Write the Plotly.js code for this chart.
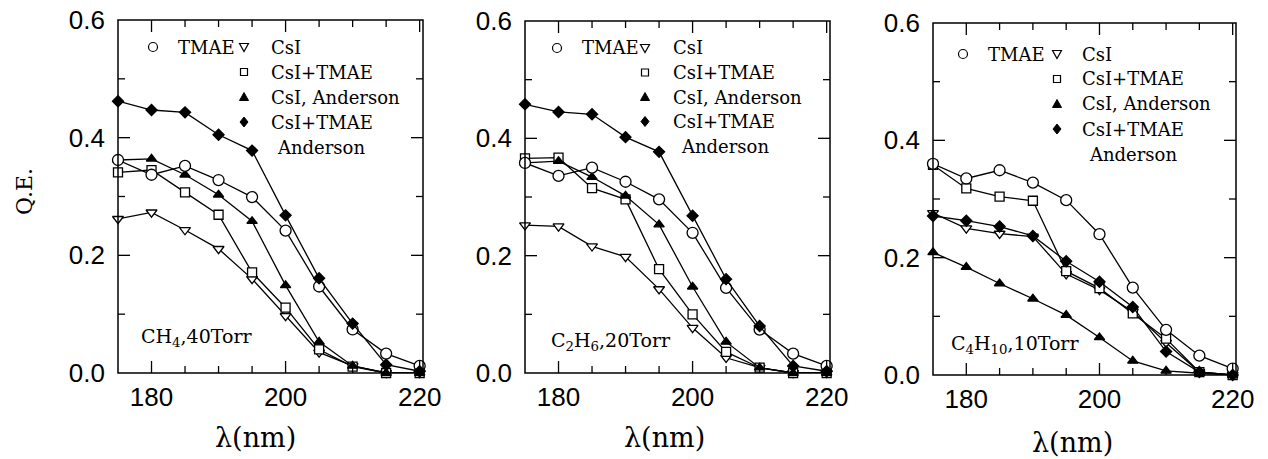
<!DOCTYPE html>
<html>
<head>
<meta charset="utf-8">
<script src="https://cdn.plot.ly/plotly-3.0.1.min.js"></script>
<style>html,body{margin:0;padding:0;background:#fff;}#plot{width:1268px;height:459px;}</style>
</head>
<body>
<div id="plot"></div>
<script>
// Wavelengths (nm)
const wavelength = [175, 180, 185, 190, 195, 200, 205, 210, 215, 220];

// Panel 1: CH4, 40 Torr
const ch4_TMAE        = [0.362, 0.337, 0.352, 0.328, 0.299, 0.242, 0.147, 0.074, 0.033, 0.012];
const ch4_CsI         = [0.262, 0.273, 0.243, 0.211, 0.160, 0.097, 0.035, 0.012, 0.000, 0.000];
const ch4_CsI_TMAE    = [0.341, 0.345, 0.307, 0.269, 0.171, 0.111, 0.040, 0.011, 0.000, 0.000];
const ch4_CsI_And     = [0.362, 0.364, 0.337, 0.303, 0.258, 0.149, 0.053, 0.012, 0.000, 0.000];
const ch4_CsITMAE_And = [0.462, 0.447, 0.443, 0.405, 0.378, 0.268, 0.161, 0.084, 0.014, 0.003];

// Panel 2: C2H6, 20 Torr
const c2h6_TMAE        = [0.358, 0.336, 0.350, 0.326, 0.296, 0.239, 0.145, 0.074, 0.033, 0.012];
const c2h6_CsI         = [0.252, 0.250, 0.216, 0.198, 0.143, 0.077, 0.026, 0.009, 0.000, 0.000];
const c2h6_CsI_TMAE    = [0.366, 0.367, 0.315, 0.296, 0.177, 0.100, 0.036, 0.009, 0.000, 0.000];
const c2h6_CsI_And     = [0.358, 0.361, 0.334, 0.302, 0.253, 0.147, 0.053, 0.009, 0.000, 0.000];
const c2h6_CsITMAE_And = [0.458, 0.445, 0.441, 0.402, 0.377, 0.268, 0.160, 0.080, 0.012, 0.003];

// Panel 3: C4H10, 10 Torr
const c4h10_TMAE        = [0.360, 0.335, 0.349, 0.328, 0.298, 0.240, 0.149, 0.077, 0.033, 0.011];
const c4h10_CsI         = [0.276, 0.250, 0.241, 0.236, 0.172, 0.145, 0.108, 0.055, 0.005, 0.000];
const c4h10_CsI_TMAE    = [0.358, 0.318, 0.304, 0.297, 0.177, 0.148, 0.105, 0.062, 0.005, 0.000];
const c4h10_CsI_And     = [0.209, 0.184, 0.156, 0.130, 0.102, 0.064, 0.024, 0.007, 0.003, 0.000];
const c4h10_CsITMAE_And = [0.271, 0.263, 0.253, 0.237, 0.194, 0.159, 0.116, 0.040, 0.005, 0.000];

// Labels
const seriesNames = ["TMAE", "CsI", "CsI+TMAE", "CsI, Anderson", "CsI+TMAE", "Anderson"];
const panelLabels = ["CH<sub>4</sub>,40Torr", "C<sub>2</sub>H<sub>6</sub>,20Torr", "C<sub>4</sub>H<sub>10</sub>,10Torr"];
const xTitle = "λ(nm)";
const yTitle = "Q.E.";

const panels = [
  [ch4_TMAE, ch4_CsI, ch4_CsI_TMAE, ch4_CsI_And, ch4_CsITMAE_And],
  [c2h6_TMAE, c2h6_CsI, c2h6_CsI_TMAE, c2h6_CsI_And, c2h6_CsITMAE_And],
  [c4h10_TMAE, c4h10_CsI, c4h10_CsI_TMAE, c4h10_CsI_And, c4h10_CsITMAE_And]
];

const styles = [
  {symbol: "circle", size: 11, color: "#fff"},
  {symbol: "triangle-down", size: 9.5, color: "#fff"},
  {symbol: "square", size: 9, color: "#fff"},
  {symbol: "triangle-up", size: 9, color: "#000"},
  {symbol: "diamond", size: 8.5, color: "#000"}
];
const drawOrder = [1, 2, 3, 0, 4];

const W = 1268, H = 459;
const geom = [
  {l: 118, r: 423, t: 20, b: 373},
  {l: 525, r: 830, t: 21, b: 373},
  {l: 933, r: 1236, t: 23, b: 375}
];
const X_RANGE = [175, 220.5], Y_RANGE = [0, 0.6];
const fx = p => p / W;
const fy = p => 1 - p / H;

const traces = [];
panels.forEach((series, pi) => {
  const sfx = pi === 0 ? "" : String(pi + 1);
  drawOrder.forEach(si => {
    const st = styles[si];
    traces.push({
      x: wavelength, y: series[si], name: seriesNames[si],
      xaxis: "x" + sfx, yaxis: "y" + sfx,
      type: "scatter", mode: "lines+markers", cliponaxis: false, showlegend: false,
      line: {color: "#000", width: 1.3},
      marker: {symbol: st.symbol, size: st.size, color: st.color, line: {color: "#000", width: 1.3}}
    });
  });
});

const layout = {
  width: W, height: H,
  margin: {l: 0, r: 0, t: 0, b: 0},
  showlegend: false,
  annotations: [], shapes: []
};

const tickFont = {family: "Liberation Sans, Arial, sans-serif", size: 26, color: "#000"};
const frameLine = {color: "#000", width: 1.5};
const tickLine = {color: "#000", width: 1.3};
geom.forEach((g, pi) => {
  const sfx = pi === 0 ? "" : String(pi + 1);
  layout["xaxis" + sfx] = {
    domain: [fx(g.l), fx(g.r)], range: X_RANGE, anchor: "y" + sfx,
    showline: false, ticks: "",
    tickmode: "linear", tick0: 180, dtick: 20,
    tickfont: tickFont, ticklabelstandoff: 6,
    showgrid: false, zeroline: false
  };
  layout["yaxis" + sfx] = {
    domain: [fy(g.b), fy(g.t)], range: Y_RANGE, anchor: "x" + sfx,
    showline: false, ticks: "",
    tickmode: "linear", tick0: 0, dtick: 0.2, tickformat: ".1f",
    tickfont: tickFont, ticklabelstandoff: 12,
    showgrid: false, zeroline: false
  };

  // frame around the panel (paper coordinates of the axis domains)
  layout.shapes.push({type: "rect", xref: "paper", yref: "paper",
    x0: fx(g.l), x1: fx(g.r), y0: fy(g.b), y1: fy(g.t), line: frameLine, fillcolor: "rgba(0,0,0,0)"});
  // inside ticks on all four sides: x via the x axis scale, y via the y axis scale
  for (let xv = 180; xv <= 220; xv += 5) {
    const len = (xv % 20 === 0) ? 12 : 7;
    layout.shapes.push({type: "line", xref: "x" + sfx, yref: "paper", x0: xv, x1: xv,
      y0: fy(g.b), y1: fy(g.b - len), line: tickLine});
    layout.shapes.push({type: "line", xref: "x" + sfx, yref: "paper", x0: xv, x1: xv,
      y0: fy(g.t), y1: fy(g.t + len), line: tickLine});
  }
  for (let k = 1; k <= 5; k++) {
    const yv = k / 10;
    const len = (k % 2 === 0) ? 12 : 7;
    layout.shapes.push({type: "line", xref: "paper", yref: "y" + sfx, x0: fx(g.l), x1: fx(g.l + len),
      y0: yv, y1: yv, line: tickLine});
    layout.shapes.push({type: "line", xref: "paper", yref: "y" + sfx, x0: fx(g.r), x1: fx(g.r - len),
      y0: yv, y1: yv, line: tickLine});
  }
});

const serif = "DejaVu Serif, Liberation Serif, serif";
const textFont = {family: serif, size: 18, color: "#000"};
function ann(xp, yp, text, font, xanchor) {
  layout.annotations.push({
    xref: "paper", yref: "paper", x: fx(xp), y: fy(yp), text: text,
    showarrow: false, font: font, xanchor: xanchor || "center", yanchor: "middle"
  });
}
function pathFrom(pts) {
  return "M" + pts.map(p => fx(p[0]) + "," + fy(p[1])).join("L") + "Z";
}
function glyph(kind, cx, cy) {
  const ln = {color: "#000", width: 1.2};
  if (kind === "circle") {
    const r = 4.5;
    layout.shapes.push({type: "circle", xref: "paper", yref: "paper",
      x0: fx(cx - r), x1: fx(cx + r), y0: fy(cy + r), y1: fy(cy - r), line: ln, fillcolor: "#fff"});
  } else if (kind === "square") {
    const r = 3.5;
    layout.shapes.push({type: "rect", xref: "paper", yref: "paper",
      x0: fx(cx - r), x1: fx(cx + r), y0: fy(cy + r), y1: fy(cy - r), line: ln, fillcolor: "#fff"});
  } else if (kind === "tridown") {
    layout.shapes.push({type: "path", xref: "paper", yref: "paper",
      path: pathFrom([[cx - 4.5, cy - 3.5], [cx + 4.5, cy - 3.5], [cx, cy + 4.5]]), line: ln, fillcolor: "#fff"});
  } else if (kind === "triup") {
    layout.shapes.push({type: "path", xref: "paper", yref: "paper",
      path: pathFrom([[cx - 4.5, cy + 3.5], [cx + 4.5, cy + 3.5], [cx, cy - 4.5]]), line: {color: "#000", width: 1}, fillcolor: "#000"});
  } else if (kind === "diamond") {
    layout.shapes.push({type: "path", xref: "paper", yref: "paper",
      path: pathFrom([[cx, cy - 5], [cx + 4, cy], [cx, cy + 5], [cx - 4, cy]]), line: {color: "#000", width: 1}, fillcolor: "#000"});
  }
}

const legendGeom = [
  {circ: 35, tmae: 58, sym: 126, txt: 151, and: 157, y0: 47, dy: 25},
  {circ: 32, tmae: 55, sym: 120, txt: 146, and: 154, y0: 48, dy: 24.5},
  {circ: 30, tmae: 53, sym: 124, txt: 147, and: 154, y0: 54, dy: 25}
];
const labelGeom = [{x: 21, y: 337}, {x: 24, y: 341}, {x: 16, y: 344}];
const xTitleGeom = [{x: 255, y: 437}, {x: 664, y: 437}, {x: 1072, y: 442}];

geom.forEach((g, pi) => {
  const L = legendGeom[pi];
  glyph("circle", g.l + L.circ, L.y0);
  ann(g.l + L.tmae, L.y0, seriesNames[0], textFont, "left");
  glyph("tridown", g.l + L.sym, L.y0);
  ann(g.l + L.txt, L.y0, seriesNames[1], textFont, "left");
  glyph("square", g.l + L.sym, L.y0 + L.dy);
  ann(g.l + L.txt, L.y0 + L.dy, seriesNames[2], textFont, "left");
  glyph("triup", g.l + L.sym, L.y0 + 2 * L.dy);
  ann(g.l + L.txt, L.y0 + 2 * L.dy, seriesNames[3], textFont, "left");
  glyph("diamond", g.l + L.sym, L.y0 + 3 * L.dy);
  ann(g.l + L.txt, L.y0 + 3 * L.dy, seriesNames[4], textFont, "left");
  ann(g.l + L.and, L.y0 + 4 * L.dy, seriesNames[5], textFont, "left");
  ann(g.l + labelGeom[pi].x, labelGeom[pi].y, panelLabels[pi], {family: serif, size: 19, color: "#000"}, "left");
  ann(xTitleGeom[pi].x, xTitleGeom[pi].y, xTitle, {family: serif, size: 27, color: "#000"});
});

layout.annotations.push({
  xref: "paper", yref: "paper", x: fx(24), y: fy(192), text: yTitle, textangle: -90,
  showarrow: false, font: {family: serif, size: 22, color: "#000"}, xanchor: "center", yanchor: "middle"
});

Plotly.newPlot("plot", traces, layout, {staticPlot: true, displayModeBar: false});
</script>
</body>
</html>
